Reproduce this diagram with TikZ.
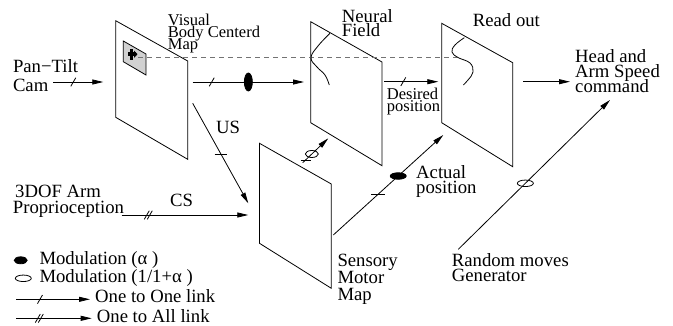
\documentclass[tikz,border=0pt]{standalone}
\usepackage{fontspec}
\setmainfont{Liberation Serif}
\usetikzlibrary{arrows.meta,shapes.geometric}
\newcommand{\ml}[2]{\vtop{\baselineskip=#1pt\lineskiplimit=-50pt\relax #2}}
\begin{document}
\begin{tikzpicture}[x=1pt,y=-1pt,
  ln/.style={line width=0.8pt},
  panel/.style={ln, line join=miter},
  arr/.style={ln, -{Triangle[length=11pt,width=5pt]}},
  lab/.style={inner sep=0pt, anchor=base west, font=\fontsize{18.7}{18}\selectfont},
  slab/.style={inner sep=0pt, anchor=base west, font=\fontsize{16.5}{12}\selectfont},
  modf/.style={ellipse, inner sep=0pt, draw, ln, fill=black},
  modo/.style={ellipse, inner sep=0pt, draw, ln},
  tk/.style={ln},
  dsh/.style={line width=0.8pt, black!55, dash pattern=on 5pt off 4pt}
]
\useasboundingbox (0,0) rectangle (673,325);

% panels
\draw[panel] (115.7,20.7) -- (187.7,61) -- (187.7,159.3) -- (115.7,117.3) -- cycle;
\draw[panel] (310.7,21.7) -- (382,62) -- (382,165.7) -- (310.7,122.7) -- cycle;
\draw[panel] (441.7,23.3) -- (512.7,62.7) -- (512.7,166.7) -- (441.7,122.7) -- cycle;
\draw[panel] (259.5,143.3) -- (331.3,184) -- (331.3,288.3) -- (259.5,243.3) -- cycle;

% inner target window
\filldraw[ln, fill=black!18] (123.3,41) -- (146,54) -- (146,75) -- (123.3,61.7) -- cycle;
\fill (127.5,52.2) rectangle (136,56.2);
\fill (129.6,48.5) rectangle (133.4,60);
\fill (134,50.5) -- (137.5,54.2) -- (134,58) -- cycle;

% dashed line
\coordinate (dS) at (138,57.7);
\coordinate (dE) at (457,57.7);
\draw[dsh] (dS) -- (dE);

% neural field curve and read-out curve
\draw[ln] plot[smooth, tension=0.7] coordinates {(330,33.3) (318,46) (311,57.7) (317,67) (325,75) (329.3,85)};
\draw[ln] plot[smooth, tension=0.7] coordinates {(464.3,37.7) (455,45) (452,52) (458,57.5) (470,63) (473,72) (468,80) (463.3,85)};

% connector end points
\coordinate (a1s) at (53.3,82);   \coordinate (a1e) at (103.3,82);
\coordinate (a2s) at (192.7,82);  \coordinate (a2e) at (304,82);
\coordinate (a3s) at (384,81.7);  \coordinate (a3e) at (438.3,81.7);
\coordinate (a4s) at (523.3,81.7);\coordinate (a4e) at (570,81.7);
\coordinate (uss) at (192.7,103.3); \coordinate (use) at (248.3,203.3);
\coordinate (css) at (121.7,215); \coordinate (cse) at (248.3,215);
\coordinate (snS) at (302.7,162.7); \coordinate (snE) at (328.3,138.3);
\coordinate (srS) at (333.3,235); \coordinate (srE) at (443.3,135);
\coordinate (rmS) at (458.3,249.3); \coordinate (rmE) at (610,100);
\coordinate (l1s) at (16,299.3); \coordinate (l1e) at (90,299.3);
\coordinate (l2s) at (16,318.3); \coordinate (l2e) at (91.7,318.3);

% connectors
\draw[arr] (a1s) -- coordinate[pos=0.4](t1) (a1e);
\draw[tk] (t1) ++(-2.5,4.3) -- ++(5,-8.6);
\draw[arr] (a2s) -- coordinate[pos=0.171](t2) node[pos=0.5, modf, minimum width=8pt, minimum height=18pt](m1){} (a2e);
\draw[tk] (t2) ++(-2.5,4.3) -- ++(5,-8.6);
\draw[arr] (a3s) -- coordinate[pos=0.355](t3) (a3e);
\draw[tk] (t3) ++(-2.5,4.3) -- ++(5,-8.6);
\draw[arr] (a4s) -- (a4e);
\draw[arr] (uss) -- coordinate[pos=0.507](t4) (use);
\draw[tk] (t4) ++(-6.3,0) -- ++(12.6,0);
\draw[arr] (css) -- coordinate[pos=0.21](t5) (cse);
\draw[tk] (t5) ++(-4,4.3) -- ++(5,-8.6);
\draw[tk] (t5) ++(-1,4.3) -- ++(5,-8.6);
\draw[arr] (snS) -- coordinate[pos=0.11](t6) node[pos=0.357, modo, minimum width=13pt, minimum height=7pt](m2){} (snE);
\draw[tk] (t6) ++(-5,0) -- ++(10,0);
\draw[arr] (srS) -- coordinate[pos=0.407](t7) node[pos=0.59, modf, minimum width=16pt, minimum height=6.5pt](m3){} (srE);
\draw[tk] (t7) ++(-7,0) -- ++(14,0);
\draw[arr] (rmS) -- node[pos=0.442, modo, minimum width=16pt, minimum height=6.5pt](m4){} (rmE);

% legend
\node[modf, minimum width=13pt, minimum height=7pt] (lg1) at (20.7,260.3) {};
\node[modo, minimum width=16pt, minimum height=6.5pt] (lg2) at (23.3,278.3) {};
\draw[arr] (l1s) -- coordinate[pos=0.324](t8) (l1e);
\draw[tk] (t8) ++(-2.5,4.3) -- ++(5,-8.6);
\draw[arr] (l2s) -- coordinate[pos=0.308](t9) (l2e);
\draw[tk] (t9) ++(-4,4.3) -- ++(5,-8.6);
\draw[tk] (t9) ++(-1,4.3) -- ++(5,-8.6);

% labels
\node[slab] (visual) at (167.7,25) {\ml{12}{\hbox{Visual}\hbox{Body Centerd}\hbox{Map}}};
\node[lab] (neural) at (341.7,22.7) {\ml{13.3}{\hbox{Neural}\hbox{Field}}};
\node[lab] (readout) at (472.7,26.7) {Read out};
\node[lab] (head) at (575,62) {\ml{15}{\hbox{Head and}\hbox{Arm Speed}\hbox{command}}};
\node[slab] (desired) at (386.7,99) {\ml{12}{\hbox{Desired}\hbox{position}}};
\node[lab] (pantilt) at (12.8,72.7) {\ml{19}{\hbox{Pan−Tilt}\hbox{Cam}}};
\node[lab] (arm) at (12.7,197) {\ml{16}{\hbox{\hspace{2.3pt}3DOF Arm}\hbox{Proprioception}}};
\node[lab] (cs) at (170,206.7) {CS};
\node[lab] (us) at (216,133.3) {US};
\node[lab] (actual) at (416,178) {\ml{15}{\hbox{Actual}\hbox{position}}};
\node[lab] (sensory) at (337.3,266) {\ml{17}{\hbox{Sensory}\hbox{Motor}\hbox{Map}}};
\node[lab] (random) at (451.7,266) {\ml{15}{\hbox{Random moves}\hbox{Generator}}};
\node[lab] (lt1) at (39.3,264) {Modulation (α )};
\node[lab] (lt2) at (39.3,282) {Modulation (1/1+α )};
\node[lab] (lt3) at (95,302) {One to One link};
\node[lab] (lt4) at (96.7,322) {One to All link};
\end{tikzpicture}
\end{document}
